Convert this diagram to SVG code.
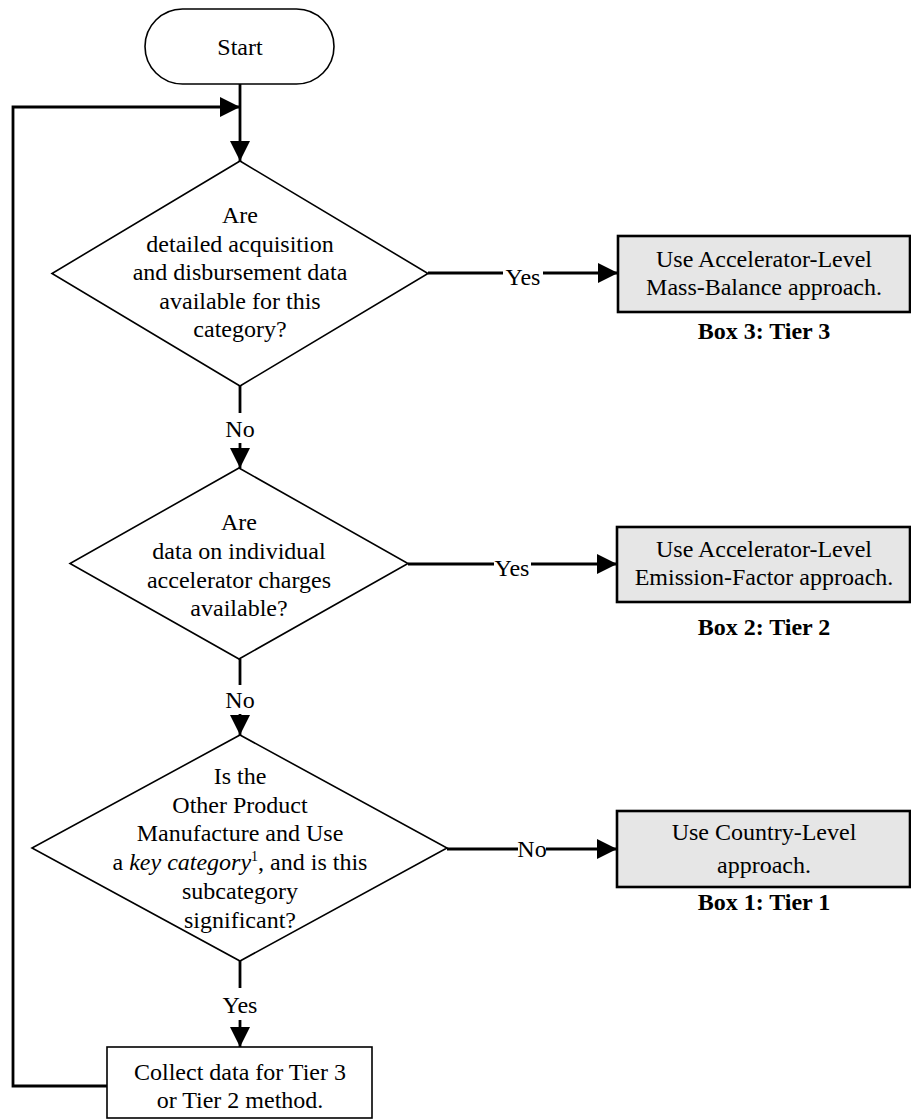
<svg xmlns="http://www.w3.org/2000/svg" width="911" height="1120" viewBox="0 0 911 1120">
<style>
text{font-family:"Liberation Serif","Times New Roman",serif;font-size:24px;fill:#000;text-anchor:middle}
.b{font-weight:bold}
.sh{fill:#fff;stroke:#000;stroke-width:1.6}
.box{fill:#e6e6e6;stroke:#000;stroke-width:2.6}
.c{fill:none;stroke:#000;stroke-width:2.8}
</style>
<defs>
<marker id="ah" markerUnits="userSpaceOnUse" viewBox="0 0 20 20" refX="20" refY="10" markerWidth="20" markerHeight="20" orient="auto">
<path d="M0,0 L20,10 L0,20 z" fill="#000"/>
</marker>
</defs>
<g id="connectors">
<path class="c" d="M240,84 V161" marker-end="url(#ah)"/>
<path class="c" d="M107,1086 H13 V107 H240" marker-end="url(#ah)"/>
<path class="c" d="M428,273 H503"/>
<path class="c" d="M543,273 H618" marker-end="url(#ah)"/>
<path class="c" d="M408,564 H494"/>
<path class="c" d="M531,564 H617" marker-end="url(#ah)"/>
<path class="c" d="M447,849 H518"/>
<path class="c" d="M546,849 H617" marker-end="url(#ah)"/>
<path class="c" d="M240,386 V413"/>
<path class="c" d="M240,443 V468" marker-end="url(#ah)"/>
<path class="c" d="M240,659 V685"/>
<path class="c" d="M240,714 V735" marker-end="url(#ah)"/>
<path class="c" d="M240,961 V988"/>
<path class="c" d="M240,1020 V1047" marker-end="url(#ah)"/>
<text x="523" y="285">Yes</text>
<text x="512" y="576">Yes</text>
<text x="532" y="857">No</text>
<text x="240" y="437">No</text>
<text x="240" y="708">No</text>
<text x="240" y="1013">Yes</text>
</g>
<g id="start">
<rect class="sh" x="145" y="9" width="189" height="75" rx="37.5"/>
<text x="240" y="55">Start</text>
</g>
<g id="decision1">
<polygon class="sh" points="240,161 428,273.5 240,386 52,273.5"/>
<text x="240" y="223">Are</text>
<text x="240" y="252">detailed acquisition</text>
<text x="240" y="280">and disbursement data</text>
<text x="240" y="309">available for this</text>
<text x="240" y="337">category?</text>
</g>
<g id="decision2">
<polygon class="sh" points="239,468 408,563.5 239,659 70,563.5"/>
<text x="239" y="530">Are</text>
<text x="239" y="559">data on individual</text>
<text x="239" y="588">accelerator charges</text>
<text x="239" y="616">available?</text>
</g>
<g id="decision3">
<polygon class="sh" points="240,735 447,848 240,961 32,848"/>
<text x="240" y="784">Is the</text>
<text x="240" y="813">Other Product</text>
<text x="240" y="841">Manufacture and Use</text>
<text x="240" y="870">a <tspan font-style="italic">key category</tspan><tspan font-size="14" dy="-9">1</tspan><tspan dy="9">, and is this</tspan></text>
<text x="240" y="899">subcategory</text>
<text x="240" y="928">significant?</text>
</g>
<g id="box3">
<rect class="box" x="618" y="236" width="292" height="76"/>
<text x="764" y="267">Use Accelerator-Level</text>
<text x="764" y="295">Mass-Balance approach.</text>
<text class="b" x="764" y="339">Box 3: Tier 3</text>
</g>
<g id="box2">
<rect class="box" x="617" y="527" width="293" height="75"/>
<text x="764" y="557">Use Accelerator-Level</text>
<text x="764" y="585">Emission-Factor approach.</text>
<text class="b" x="764" y="635">Box 2: Tier 2</text>
</g>
<g id="box1">
<rect class="box" x="617" y="811" width="293" height="76"/>
<text x="764" y="840">Use Country-Level</text>
<text x="764" y="873">approach.</text>
<text class="b" x="764" y="910">Box 1: Tier 1</text>
</g>
<g id="collect">
<rect class="sh" x="107" y="1047" width="265" height="71"/>
<text x="240" y="1080">Collect data for Tier 3</text>
<text x="240" y="1108">or Tier 2 method.</text>
</g>
</svg>
